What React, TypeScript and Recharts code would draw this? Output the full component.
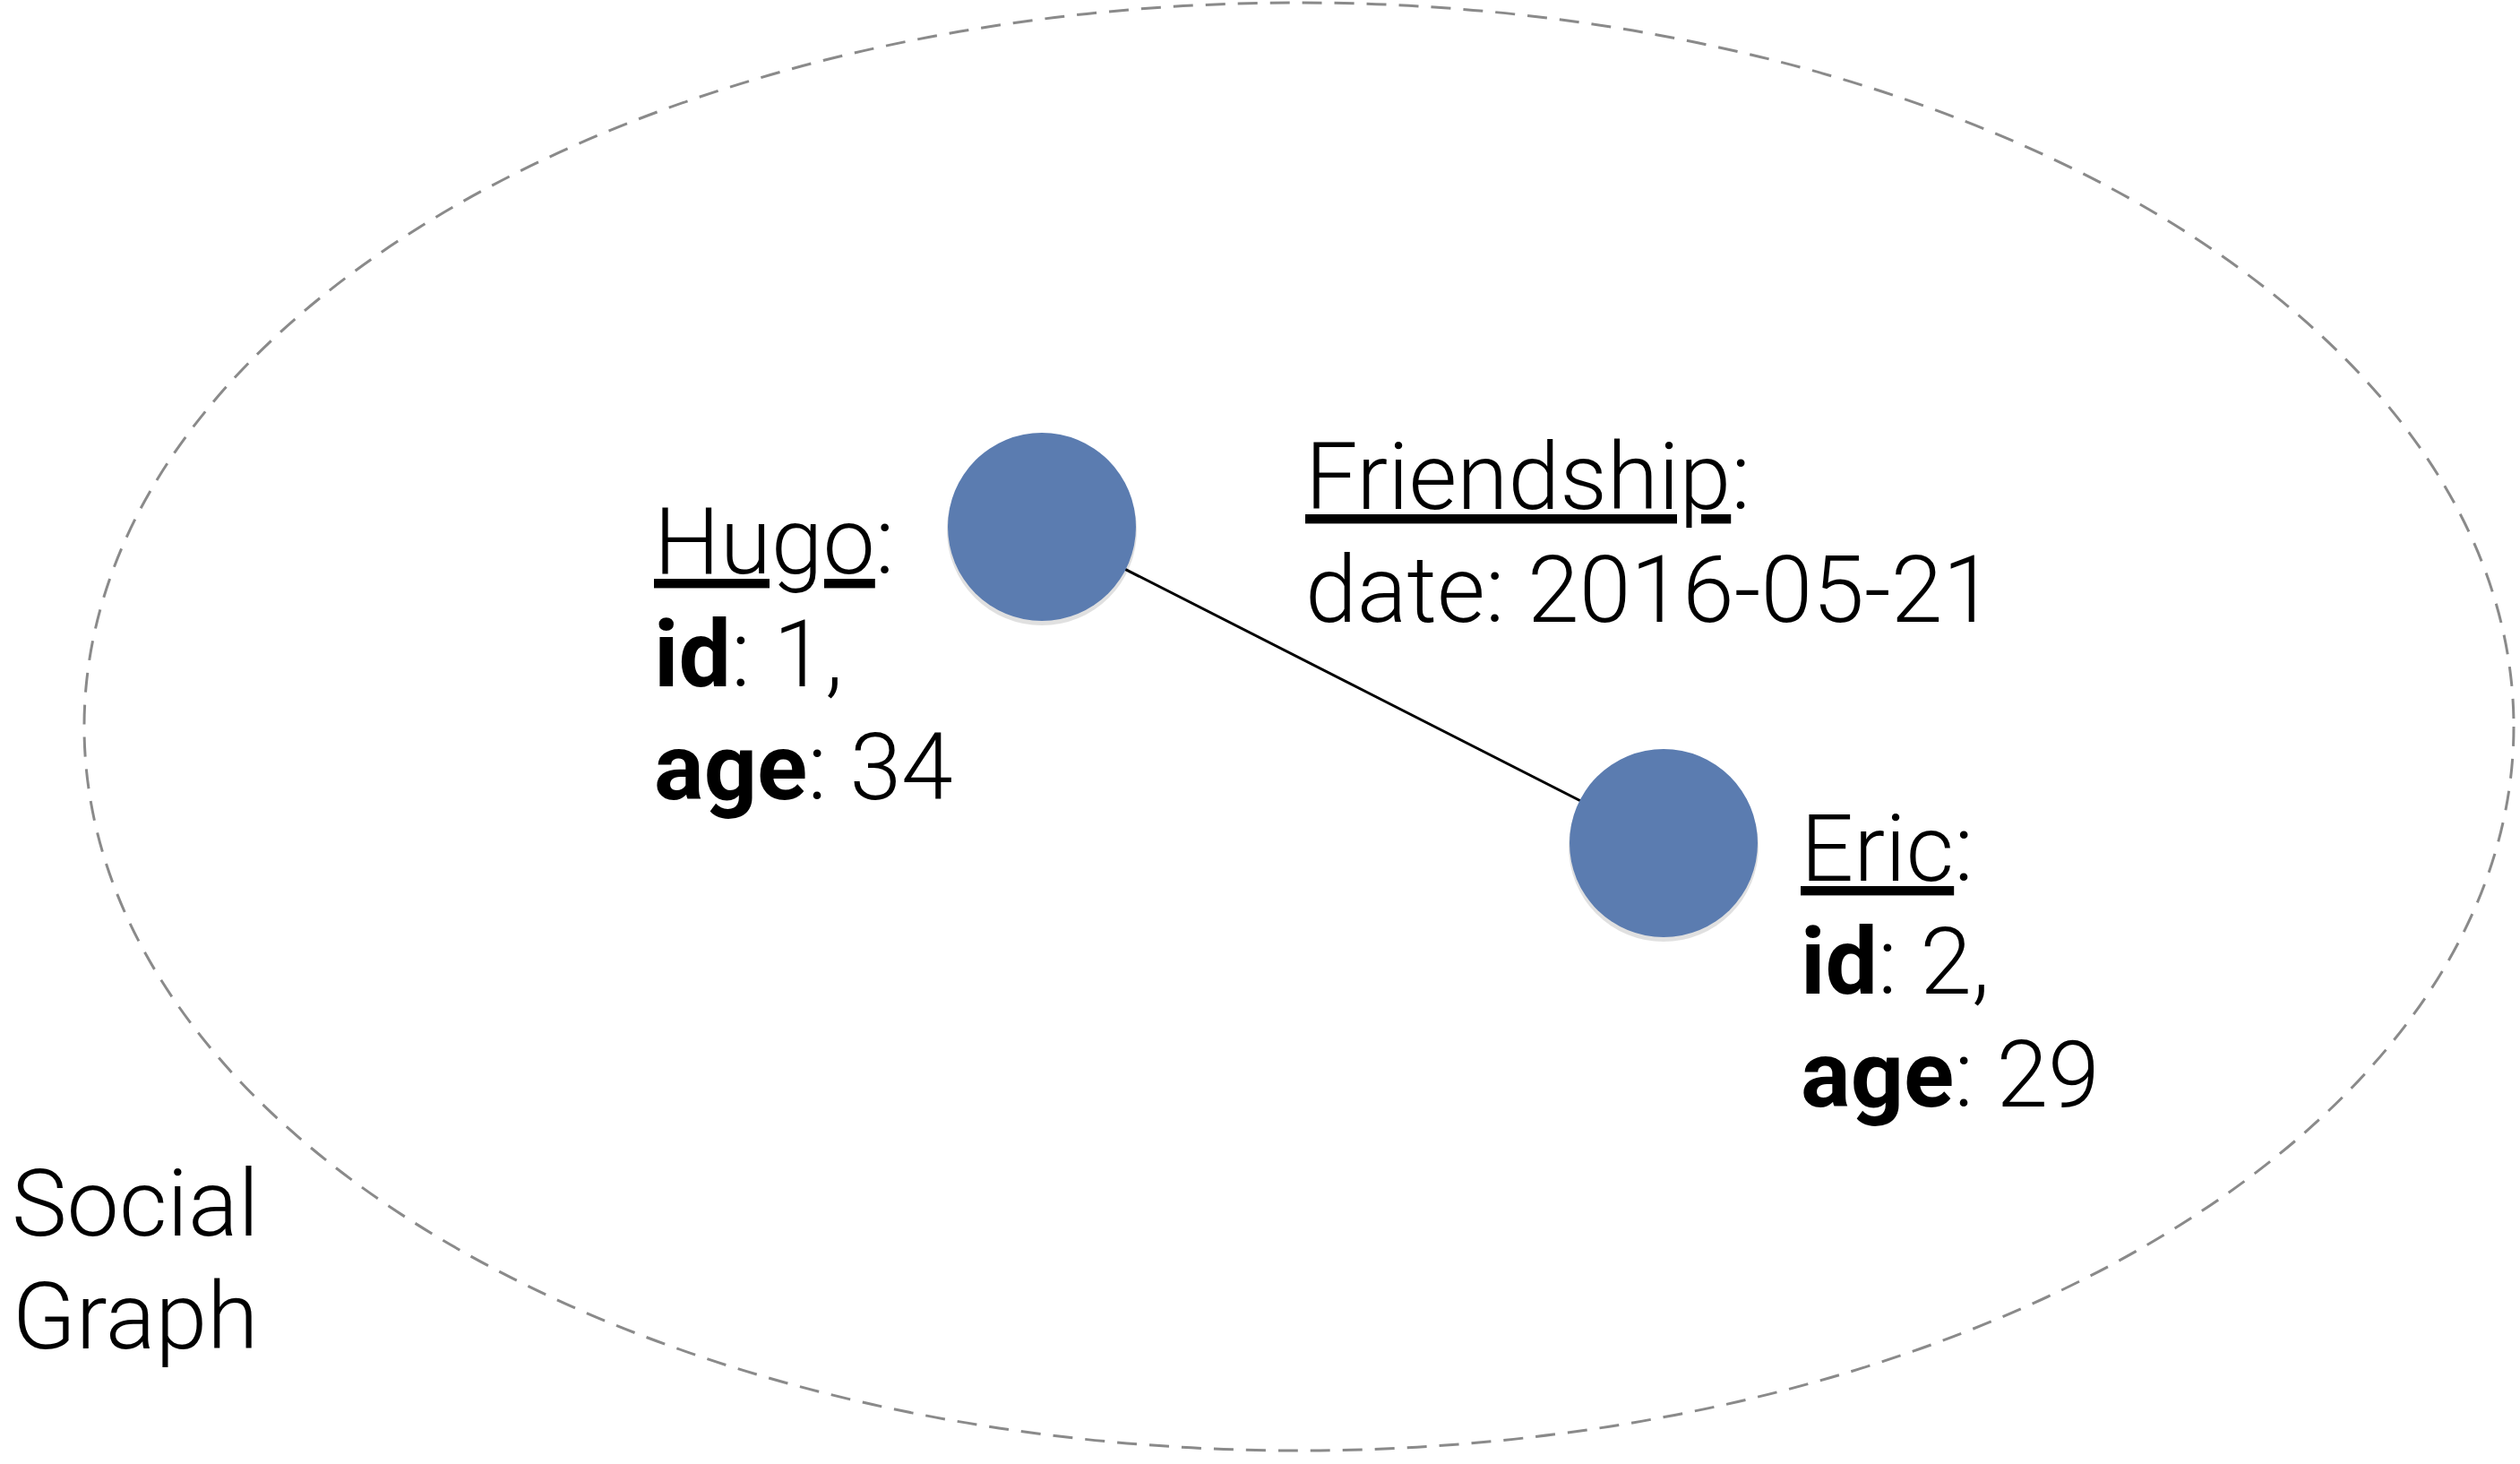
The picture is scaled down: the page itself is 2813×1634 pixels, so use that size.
import { ScatterChart, Scatter, XAxis, YAxis } from "recharts";

const W = 2813;
const H = 1634;

// graph nodes (chart units = pixels of the picture)
const nodes = [
  { name: "Hugo", x: 1163, y: 588 },
  { name: "Eric", x: 1857, y: 941 },
];

// the dashed boundary of the social graph
const boundary = [{ x: 1450, y: 811, rx: 1356, ry: 808 }];

// text blocks: first line underlined title, then key/value rows
const labels = [
  { x: 730, y: 640, title: "Hugo", rows: [["id", " 1,"], ["age", " 34"]], bold: true },
  { x: 1457, y: 568, title: "Friendship", rows: [["date", " 2016-05-21"]], bold: false },
  { x: 2010, y: 983, title: "Eric", rows: [["id", " 2,"], ["age", " 29"]], bold: true },
];

const caption = [{ x: 151, y: 1379, lines: ["Social", "Graph"] }];

const FONT = "Roboto, 'Liberation Sans', sans-serif";
const SIZE = 104;
const LINE = 126;

const NodeShape = (p: any) => (
  <g>
    <circle cx={p.cx} cy={p.cy + 4} r={106} fill="#000" opacity={0.12} />
    <circle cx={p.cx} cy={p.cy} r={105} fill="#5b7cb0" />
  </g>
);

const EllipseShape = (p: any) => (
  <ellipse
    cx={p.cx}
    cy={p.cy}
    rx={p.payload.rx}
    ry={p.payload.ry}
    fill="none"
    stroke="#8a8a8a"
    strokeWidth={3}
    strokeDasharray="22 14"
  />
);

const LabelShape = (p: any) => {
  const d = p.payload;
  return (
    <text x={p.cx} y={p.cy} fontFamily={FONT} fontSize={SIZE} fontWeight={300} fill="#000">
      <tspan x={p.cx} textDecoration="underline">{d.title}</tspan>
      <tspan>:</tspan>
      {d.rows.map((r: string[], i: number) => (
        <tspan key={i} x={p.cx} dy={i === 0 ? LINE : LINE}>
          <tspan fontWeight={d.bold ? 700 : 300}>{r[0]}</tspan>
          <tspan>:{r[1]}</tspan>
        </tspan>
      ))}
    </text>
  );
};

const CaptionShape = (p: any) => (
  <text x={p.cx} y={p.cy} fontFamily={FONT} fontSize={SIZE} fontWeight={300} textAnchor="middle">
    {p.payload.lines.map((l: string, i: number) => (
      <tspan key={i} x={p.cx} dy={i === 0 ? 0 : LINE}>{l}</tspan>
    ))}
  </text>
);

export default function App() {
  return (
    <div style={{ position: "absolute", left: 0, top: 0, background: "#fff" }}>
      <ScatterChart width={W} height={H} margin={{ top: 0, right: 0, bottom: 0, left: 0 }}>
        <XAxis type="number" dataKey="x" domain={[0, W]} hide />
        <YAxis type="number" dataKey="y" domain={[0, H]} reversed hide />
        <Scatter data={boundary} shape={EllipseShape} isAnimationActive={false} />
        <Scatter
          data={nodes}
          shape={NodeShape}
          line={{ stroke: "#000", strokeWidth: 3 }}
          isAnimationActive={false}
        />
        <Scatter data={labels} shape={LabelShape} isAnimationActive={false} />
        <Scatter data={caption} shape={CaptionShape} isAnimationActive={false} />
      </ScatterChart>
    </div>
  );
}
